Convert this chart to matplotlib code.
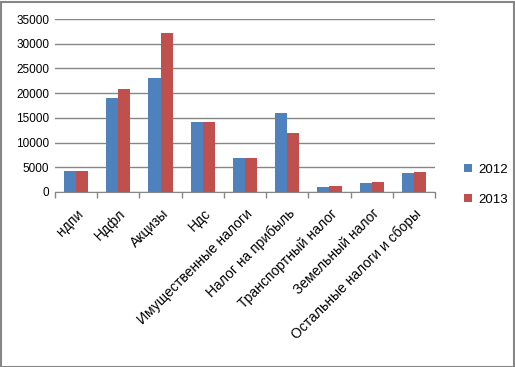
import matplotlib.pyplot as plt
import matplotlib.transforms as mtransforms
import numpy as np
from matplotlib.patches import Rectangle

plt.rcParams['font.family'] = ['Liberation Sans', 'DejaVu Sans']

categories = ["ндпи", "Ндфл", "Акцизы", "Ндс", "Имущественные налоги",
              "Налог на прибыль", "Транспортный налог", "Земельный налог",
              "Остальные налоги и сборы"]
values_2012 = [4250, 19050, 23100, 14200, 6900, 16000, 1000, 1850, 3850]
values_2013 = [4250, 20900, 32200, 14200, 6900, 12000, 1250, 2050, 4050]

W, H = 515, 367
fig = plt.figure(figsize=(W / 100, H / 100), dpi=100)
ax = fig.add_axes([55 / W, 1 - 192 / H, 380 / W, 173 / H])

x = np.arange(len(categories))
bw = 1 / 3.5
ax.bar(x - bw / 2, values_2012, bw, color='#4F81BD', label='2012', zorder=3)
ax.bar(x + bw / 2, values_2013, bw, color='#C0504D', label='2013', zorder=3)

ax.set_xlim(-0.5, len(categories) - 0.5)
ax.set_ylim(0, 35000)
ax.set_yticks(np.arange(0, 35001, 5000))
ax.yaxis.grid(True, color='#868686', linewidth=1)
ax.tick_params(axis='y', length=0, labelsize=8.5, pad=4)

# category boundary ticks
ax.set_xticks(np.arange(-0.5, len(categories), 1))
ax.set_xticklabels([])
ax.tick_params(axis='x', which='major', length=4, color='#868686', width=1)
ax.set_xticks(x, minor=True)
ax.set_xticklabels(categories, minor=True, rotation=45, ha='right', va='center',
                   rotation_mode='anchor', fontsize=10)
ax.tick_params(axis='x', which='minor', length=0, pad=14)
# nudge labels a little to the right
shift = mtransforms.ScaledTranslation(4 / 72, 0, fig.dpi_scale_trans)
for lbl in ax.get_xticklabels(minor=True):
    lbl.set_transform(lbl.get_transform() + shift)

for s in ['top', 'right', 'left']:
    ax.spines[s].set_visible(False)
ax.spines['bottom'].set_color('#868686')

fig.legend(loc='upper left', bbox_to_anchor=(452 / W, 1 - 152 / H),
           frameon=False, fontsize=9.5, handlelength=0.6, handleheight=0.6,
           labelspacing=1.35, handletextpad=0.5)

fig.patches.append(Rectangle((0.5 / W, 0.5 / H), 1 - 2 / W, 1 - 2 / H,
                             transform=fig.transFigure, fill=False,
                             edgecolor='#868686', linewidth=1.5))

fig.savefig('out.png', dpi=100)
